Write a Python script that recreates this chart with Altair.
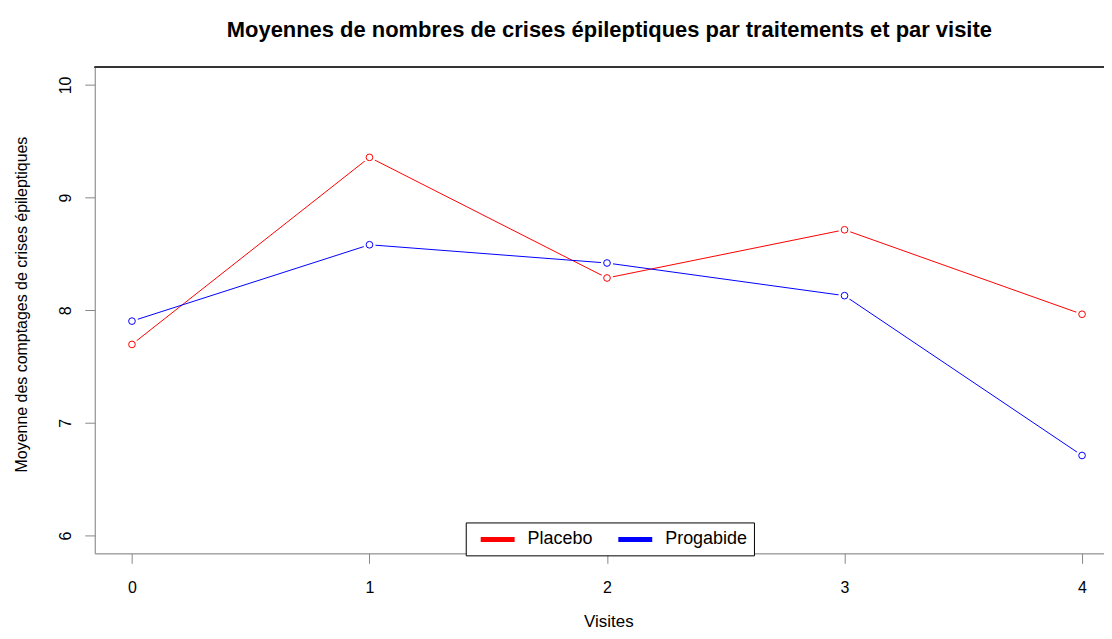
import altair as alt
import pandas as pd

visites = [0, 1, 2, 3, 4]
placebo = [7.696, 9.357, 8.286, 8.714, 7.964]
progabide = [7.903, 8.581, 8.419, 8.129, 6.710]
traitements = ["Placebo", "Progabide"]
couleurs = ["#ff0000", "#0000ff"]
y_ticks = [6, 7, 8, 9, 10]

rows = []
for v, a, b in zip(visites, placebo, progabide):
    rows.append({"visite": v, "moyenne": a, "traitement": "Placebo"})
    rows.append({"visite": v, "moyenne": b, "traitement": "Progabide"})
df = pd.DataFrame(rows)

FONT = "Liberation Sans"
W, H = 1012, 488

xscale = alt.Scale(domain=[-0.1566, 4.0924], nice=False, zero=False)
yscale = alt.Scale(domain=[5.841, 10.162], nice=False, zero=False)

xaxis = alt.Axis(values=visites, format="d", title="Visites", grid=False,
                 tickSize=10, labelPadding=29, labelBaseline="alphabetic",
                 labelFontSize=16, titleFontSize=17, titleFontWeight="normal",
                 titleBaseline="alphabetic", titleX=515, titleY=73,
                 titleAnchor="middle")
yaxis = alt.Axis(values=y_ticks, format="d",
                 title="Moyenne des comptages de crises épileptiques",
                 grid=False, tickSize=10, labelPadding=14, labelAngle=270,
                 labelAlign="center", labelBaseline="alphabetic",
                 labelFontSize=16, titleFontSize=16, titleFontWeight="normal",
                 titleBaseline="alphabetic", titleX=-68, titleY=238,
                 titleAngle=270, titleAlign="center")

legend = alt.Legend(title=None, orient="none", legendX=372, legendY=457,
                    direction="horizontal", symbolType="M-2,0H2",
                    symbolStrokeWidth=5, symbolSize=289, labelFontSize=18,
                    labelFont=FONT, labelColor="black", fillColor="white",
                    strokeColor="black", padding=6, labelOffset=19,
                    symbolOffset=15, columnPadding=15)

base = alt.Chart(df).encode(
    x=alt.X("visite:Q", scale=xscale, axis=xaxis),
    y=alt.Y("moyenne:Q", scale=yscale, axis=yaxis),
    color=alt.Color("traitement:N",
                    scale=alt.Scale(domain=traitements, range=couleurs),
                    legend=legend),
)

lines = base.mark_line(strokeWidth=1)
gaps = base.mark_circle(size=150, opacity=1).encode(color=alt.value("white"))
points = base.mark_point(shape="circle", size=45, strokeWidth=1, opacity=1,
                         filled=False)
top = alt.Chart(df).mark_rule(color="#333333", strokeWidth=1).encode(
    x=alt.value(0), x2=alt.value(W), y=alt.value(0.5))

chart = alt.layer(lines, gaps, points, top).properties(
    width=W, height=H,
    title=alt.TitleParams(
        "Moyennes de nombres de crises épileptiques par traitements et par visite",
        font=FONT, fontSize=22, fontWeight="bold", color="black",
        anchor="middle", baseline="alphabetic", offset=8, dx=10),
    autosize=alt.AutoSizeParams(type="none"),
    padding={"left": 87, "top": 58, "right": 0, "bottom": 77},
).configure_view(stroke=None).configure_axis(
    labelFont=FONT, titleFont=FONT, labelColor="black", titleColor="black",
    domainColor="black", tickColor="black", domainWidth=1, tickWidth=1,
).configure(background="white")

chart.save("out.html", embed_options={"renderer": "svg", "actions": False})
